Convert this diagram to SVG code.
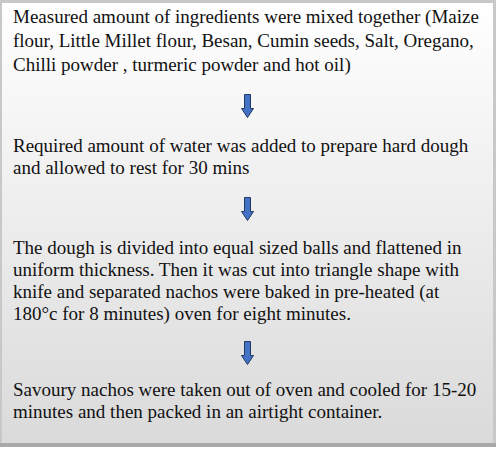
<svg xmlns="http://www.w3.org/2000/svg" xmlns:xlink="http://www.w3.org/1999/xlink" width="496" height="449" viewBox="0 0 496 449">
<style>
.arr{fill:#4472c4;stroke:#1f3864;stroke-width:1;stroke-linejoin:miter}
</style>
<defs>
<linearGradient id="bg" x1="0" y1="0" x2="0" y2="1">
<stop offset="0" stop-color="#ffffff"/>
<stop offset="1" stop-color="#dadada"/>
</linearGradient>
<path id="dn" d="M-3,0 H3 V14 H6 L0,23 L-6,14 H-3 Z"/>
</defs>
<rect x="0" y="0" width="496" height="449" fill="#ffffff"/>
<rect x="0" y="0" width="496" height="447" fill="#c8c8c8"/>
<rect x="0" y="443" width="496" height="4" fill="#a9a9a9"/>
<rect x="2" y="3" width="491" height="440" fill="url(#bg)"/>
<g id="node1" font-family="Liberation Serif, serif" font-size="19" fill="#111">
<text x="13" y="23">Measured amount of ingredients were mixed together (Maize</text>
<text x="13" y="47">flour, Little Millet flour, Besan, Cumin seeds, Salt, Oregano,</text>
<text x="13" y="71">Chilli powder , turmeric powder and hot oil)</text>
</g>
<g id="node2" font-family="Liberation Serif, serif" font-size="19" fill="#111">
<text x="13" y="152">Required amount of water was added to prepare hard dough</text>
<text x="13" y="174">and allowed to rest for 30 mins</text>
</g>
<g id="node3" font-family="Liberation Serif, serif" font-size="19" fill="#111">
<text x="13" y="254">The dough is divided into equal sized balls and flattened in</text>
<text x="13" y="276">uniform thickness. Then it was cut into triangle shape with</text>
<text x="13" y="298">knife and separated nachos were baked in pre-heated (at</text>
<text x="13" y="320">180°c for 8 minutes) oven for eight minutes.</text>
</g>
<g id="node4" font-family="Liberation Serif, serif" font-size="19" fill="#111">
<text x="13" y="396">Savoury nachos were taken out of oven and cooled for 15-20</text>
<text x="13" y="418">minutes and then packed in an airtight container.</text>
</g>
<g id="connectors">
<use xlink:href="#dn" class="arr" transform="translate(247.5,94.5)"/>
<use xlink:href="#dn" class="arr" transform="translate(247.5,197.5)"/>
<use xlink:href="#dn" class="arr" transform="translate(247.5,341.5)"/>
</g>
</svg>
